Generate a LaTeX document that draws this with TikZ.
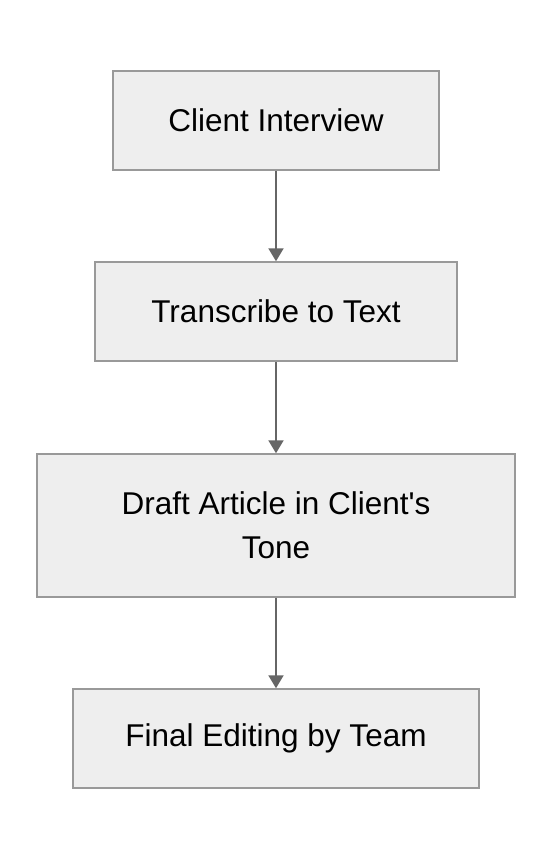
\documentclass[tikz,border=0pt]{standalone}
\usepackage{fontspec}
\setmainfont{Liberation Sans}[Ligatures=TeXOff]
\usepackage{tikz}
\usetikzlibrary{arrows.meta}
\tikzset{>={Triangle[width=15pt,length=13pt]}}
\definecolor{boxfill}{HTML}{EEEEEE}
\definecolor{boxline}{HTML}{999999}
\definecolor{arrowline}{HTML}{666666}
\tikzset{stepbox/.style={draw=boxline, fill=boxfill, line width=1.5pt, inner sep=0pt,
    font=\fontsize{31.5}{44}\selectfont, align=center}}

\begin{document}
\begin{tikzpicture}[x=1pt,y=-1pt]
    \useasboundingbox[fill=white] (0,0) rectangle (552,860);

    \node[stepbox, minimum width=326pt, minimum height=99pt] (interview) at (276,120.5) {Client Interview};
    \node[stepbox, minimum width=362pt, minimum height=99pt] (transcribe) at (276,311.5) {Transcribe to Text};
    \node[stepbox, minimum width=478pt, minimum height=143pt] (draft) at (276,525.5) {Draft Article in Client's\\Tone};
    \node[stepbox, minimum width=406pt, minimum height=99pt] (editing) at (276,738.5) {Final Editing by Team};

    \draw[->, arrowline, line width=2pt] (interview) -- (transcribe);
    \draw[->, arrowline, line width=2pt] (transcribe) -- (draft);
    \draw[->, arrowline, line width=2pt] (draft) -- (editing);
\end{tikzpicture}
\end{document}
